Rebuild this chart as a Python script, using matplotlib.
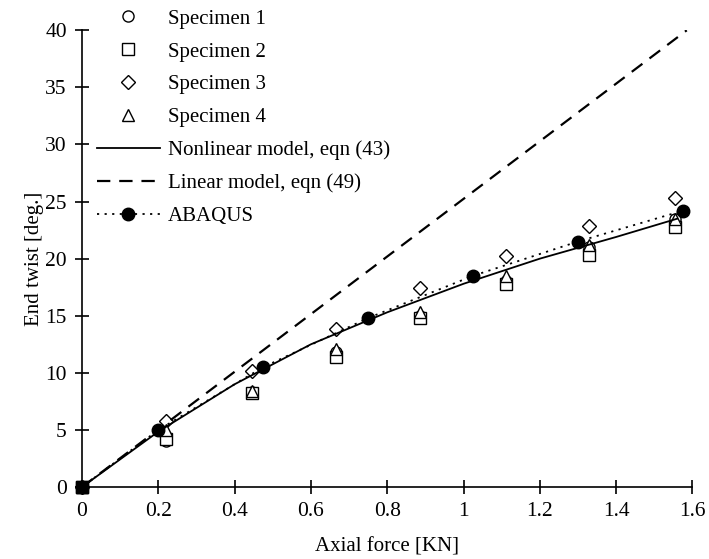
import matplotlib
matplotlib.use("Agg")
import matplotlib.pyplot as plt
import numpy as np

# test data (axial force in KN, end twist in deg.)
force_test = [0.0, 0.22, 0.445, 0.665, 0.885, 1.11, 1.33, 1.555]
spec1 = [0.0, 4.0, 8.3, 11.8, 15.0, 18.0, 21.0, 23.5]
spec2 = [0.0, 4.2, 8.2, 11.4, 14.8, 17.8, 20.3, 22.8]
spec3 = [0.0, 5.8, 10.2, 13.8, 17.4, 20.2, 22.9, 25.3]
spec4 = [0.0, 5.0, 8.4, 12.1, 15.3, 18.5, 21.2, 23.5]

# nonlinear model, eqn (43)
force_nl = [0.0, 0.2, 0.4, 0.6, 0.8, 1.0, 1.2, 1.4, 1.56]
twist_nl = [0.0, 4.85, 9.0, 12.5, 15.3, 17.8, 20.0, 21.9, 23.5]

# linear model, eqn (49)
force_lin = [0.0, 1.585]
twist_lin = [0.0, 40.0]

# ABAQUS
force_abq = [0.0, 0.2, 0.475, 0.75, 1.025, 1.3, 1.575]
twist_abq = [0.0, 5.0, 10.5, 14.8, 18.5, 21.5, 24.2]

plt.rcParams['font.family'] = ['Liberation Serif', 'DejaVu Serif']
plt.rcParams['font.size'] = 15

fig = plt.figure(figsize=(7.09, 5.59), dpi=100)
ax = fig.add_axes([0.1157, 0.1288, 0.861, 0.817])

mk = dict(linestyle='none', markerfacecolor='white', markeredgecolor='black',
          markeredgewidth=1.0, markersize=8, clip_on=False)
ax.plot(force_test, spec1, marker='o', label='Specimen 1', **mk)
ax.plot(force_test, spec2, marker='s', label='Specimen 2', **mk)
ax.plot(force_test, spec3, marker='D', label='Specimen 3', **dict(mk, markersize=7))
ax.plot(force_test, spec4, marker='^', label='Specimen 4', **mk)
ax.plot(force_nl, twist_nl, color='black', lw=1.3, label='Nonlinear model, eqn (43)')
ax.plot(force_lin, twist_lin, color='black', lw=1.6, linestyle=(0, (6, 4)),
        label='Linear model, eqn (49)')
ax.plot(force_abq, twist_abq, color='black', lw=1.3, linestyle=(0, (1.2, 3)),
        marker='o', markersize=9, markerfacecolor='black', clip_on=False,
        label='ABAQUS')
# filled square sitting on the origin
ax.plot([force_test[0]], [spec2[0]], marker='s', markersize=9, color='black',
        linestyle='none', clip_on=False, zorder=5)

ax.set_xlim(0, 1.6)
ax.set_ylim(0, 40)
ax.set_xticks(np.arange(0, 1.61, 0.2))
ax.set_xticklabels(['0', '0.2', '0.4', '0.6', '0.8', '1', '1.2', '1.4', '1.6'])
ax.set_yticks(np.arange(0, 41, 5))
ax.tick_params(direction='inout', length=10, width=1.2, labelsize=15.5, pad=6)
ax.spines['top'].set_visible(False)
ax.spines['right'].set_visible(False)
ax.spines['left'].set_linewidth(1.2)
ax.spines['bottom'].set_linewidth(1.2)

ax.set_xlabel('Axial force [KN]', fontsize=15, labelpad=12)
ax.set_ylabel('End twist [deg.]', fontsize=15, labelpad=1)

fig.legend(loc='upper left', bbox_to_anchor=(97 / 709, 1 - 9 / 559), frameon=False,
           handlelength=3.0, handletextpad=0.4, labelspacing=0.64, fontsize=15,
           borderpad=0.0, borderaxespad=0.0)

fig.savefig('out.png', dpi=100)
